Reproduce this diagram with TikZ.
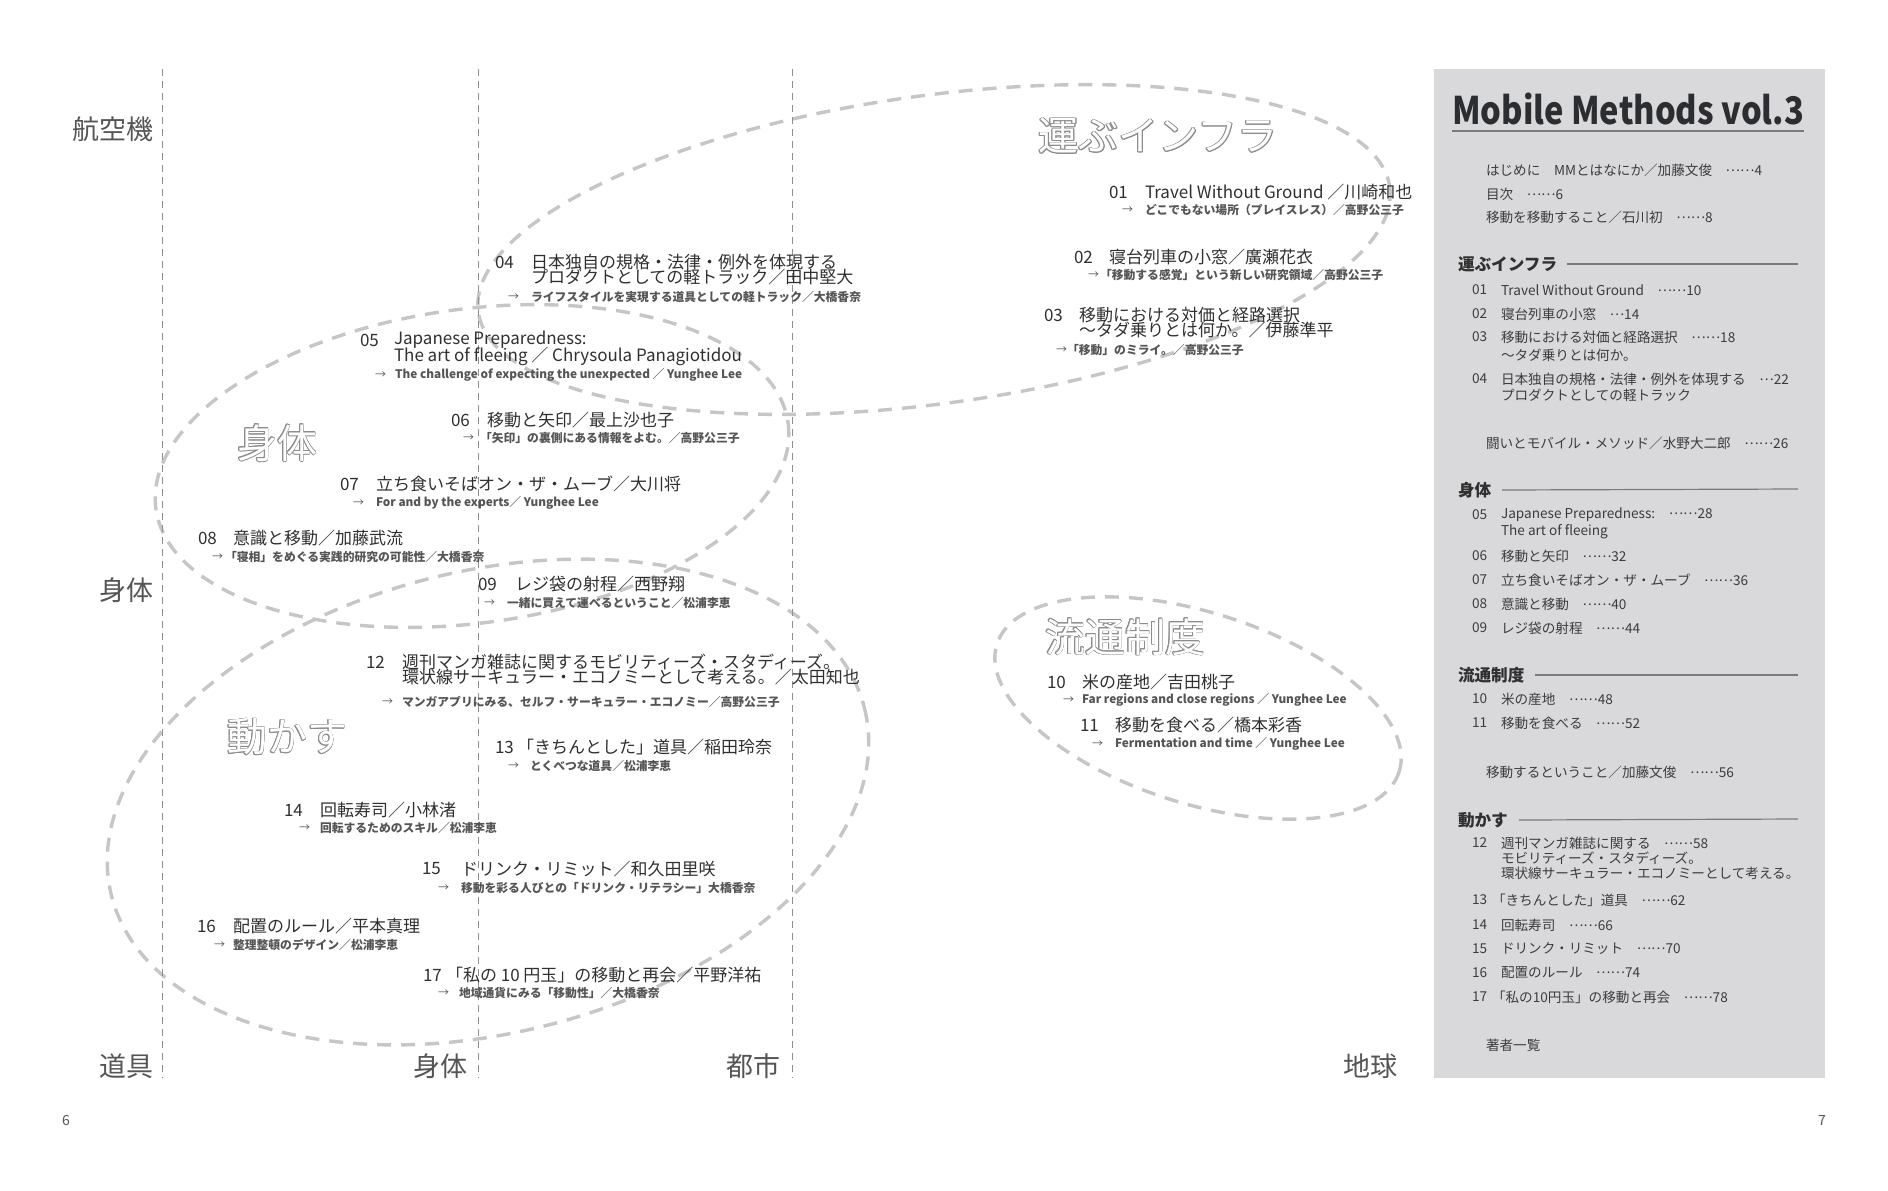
\documentclass[tikz,border=0pt]{standalone}
\usepackage{fontspec}
\setmainfont{Noto Sans CJK JP}
\usepackage{graphicx}
\definecolor{maintxt}{HTML}{303030}
\definecolor{subtxt}{HTML}{555555}
\definecolor{axistxt}{HTML}{555555}
\definecolor{ellc}{HTML}{C6C6C6}
\definecolor{vlinec}{HTML}{8E8E8E}
\definecolor{panelc}{HTML}{D9D9DC}
\definecolor{outc}{HTML}{8C8C8C}
\definecolor{toctxt}{HTML}{3C3C3C}
\definecolor{rulec}{HTML}{7A7A7A}
\definecolor{titlec}{HTML}{2B2D31}
\tikzset{
 every node/.style={inner sep=0pt,outer sep=0pt},
 mainl/.style={anchor=west,font=\fontsize{8.5}{10}\selectfont,text=maintxt},
 arrl/.style={anchor=west,font=\fontsize{5.5}{7}\selectfont,text=subtxt},
 subl/.style={anchor=west,font=\fontsize{5.9}{7}\selectfont\bfseries,text=subtxt},
 axl/.style={anchor=east,font=\fontsize{13.5}{15}\selectfont,text=axistxt},
 outlab/.style={font=\fontsize{20}{22}\selectfont,text=outc},
 ellstyle/.style={draw=ellc,line width=1.7pt,dash pattern=on 7pt off 5pt},
 vline/.style={draw=vlinec,line width=0.5pt,dash pattern=on 3.5pt off 2.5pt},
 tocl/.style={anchor=west,font=\fontsize{6.8}{8}\selectfont,text=toctxt},
 toch/.style={anchor=west,font=\fontsize{8.3}{9}\selectfont\bfseries,text=maintxt},
 tocrule/.style={draw=rulec,line width=0.6pt},
 pgnum/.style={font=\fontsize{7}{8}\selectfont,text=axistxt},
}
\newcommand\dts{\raisebox{.3em}{……}}
\newcommand\dt{\raisebox{.3em}{…}}
\newcommand\ent[6]{\node[mainl] (#1n) at (#2,#3) {#4};\node[mainl] (#1t) at (#5,#3) {#6};}
\newcommand\entc[4]{\node[mainl] (#1) at (#2,#3) {#4};}
\newcommand\subln[5]{\node[arrl] (#1a) at (#2,#4) {→};\node[subl] (#1s) at (#3,#4) {#5};}
\newcommand\outtext[4]{%
 \foreach \ang in {0,30,...,330}{\node[outlab,shift={(\ang:0.4pt)}] at (#2,#3) {#4};}
 \node[outlab,text=white] (#1) at (#2,#3) {#4};}
\newcommand\tocent[4]{\node[tocl] (#1n) at (1472,#2) {#3};\node[tocl] (#1t) at (1501,#2) {#4};}
\newcommand\toccont[3]{\node[tocl] (#1) at (1501,#2) {#3};}
\begin{document}
\begin{tikzpicture}[x=0.5pt,y=-0.5pt]
\fill[white] (0,0) rectangle (1888,1190);
\useasboundingbox (0,0) rectangle (1888,1190);
% panel
\fill[panelc] (1434,69) rectangle (1825,1078);
% ellipses
\draw[ellstyle, rotate around={7.8:(934,249.5)}] (934,249.5) ellipse [x radius=460, y radius=154];
\draw[ellstyle, rotate around={7.7:(472,466)}] (472,466) ellipse [x radius=319, y radius=157];
\draw[ellstyle, rotate around={13.9:(488,802)}] (488,802) ellipse [x radius=388, y radius=231];
\draw[ellstyle, rotate around={-17.6:(1198,708)}] (1198,708) ellipse [x radius=211, y radius=95.5];
% vertical lines
\coordinate (v1t) at (162,69); \coordinate (v1b) at (162,1078);
\coordinate (v2t) at (478,69); \coordinate (v2b) at (478,1078);
\coordinate (v3t) at (792,69); \coordinate (v3b) at (792,1078);
\draw[vline] (v1t) -- (v1b);
\draw[vline] (v2t) -- (v2b);
\draw[vline] (v3t) -- (v3b);
% outline labels
\outtext{lab1}{1158}{136}{運ぶインフラ}
\outtext{lab2}{277}{443}{身体}
\outtext{lab3}{287}{737}{動かす}
\outtext{lab4}{1125}{637}{流通制度}
% axis labels
\node[axl] (ax1) at (153,129) {航空機};
\node[axl] (ax2) at (153,590) {身体};
\node[axl] (ax3) at (153,1066) {道具};
\node[axl] (ax4) at (467,1066) {身体};
\node[axl] (ax5) at (780,1066) {都市};
\node[axl] (ax6) at (1397,1066) {地球};
\node[pgnum] (pg6) at (66,1120) {6};
\node[pgnum] (pg7) at (1822,1120) {7};
% entries
\ent{e01}{1109}{192}{01}{1145}{Travel Without Ground ／川崎和也}
\subln{e01}{1122}{1145}{210}{どこでもない場所（プレイスレス）／高野公三子}
\ent{e02}{1074}{257}{02}{1109}{寝台列車の小窓／廣瀬花衣}
\subln{e02}{1088}{1100}{275}{「移動する感覚」という新しい研究領域／高野公三子}
\ent{e03}{1044}{315}{03}{1079}{移動における対価と経路選択}
\entc{e03c}{1079}{330}{～タダ乗りとは何か。／伊藤準平}
\subln{e03}{1056}{1067}{350}{「移動」のミライ。／高野公三子}
\ent{e04}{495}{262}{04}{531}{日本独自の規格・法律・例外を体現する}
\entc{e04c}{531}{277}{プロダクトとしての軽トラック／田中堅大}
\subln{e04}{508}{531}{297}{ライフスタイルを実現する道具としての軽トラック／大橋香奈}
\ent{e05}{360}{340}{05}{394}{Japanese Preparedness:}
\entc{e05c}{394}{356}{The art of fleeing ／ Chrysoula Panagiotidou}
\subln{e05}{375}{395}{375}{The challenge of expecting the unexpected ／ Yunghee Lee}
\ent{e06}{451}{420}{06}{487}{移動と矢印／最上沙也子}
\subln{e06}{463}{480}{438}{「矢印」の裏側にある情報をよむ。／高野公三子}
\ent{e07}{340}{484}{07}{376}{立ち食いそばオン・ザ・ムーブ／大川将}
\subln{e07}{353}{376}{503}{For and by the experts／ Yunghee Lee}
\ent{e08}{198}{538}{08}{233}{意識と移動／加藤武流}
\subln{e08}{212}{225}{557}{「寝相」をめぐる実践的研究の可能性／大橋香奈}
\ent{e09}{478}{584}{09}{515}{レジ袋の射程／西野翔}
\subln{e09}{484}{507}{603}{一緒に買えて運べるということ／松浦李恵}
\ent{e12}{366}{662}{12}{402}{週刊マンガ雑誌に関するモビリティーズ・スタディーズ。}
\entc{e12c}{402}{677}{環状線サーキュラー・エコノミーとして考える。／太田知也}
\subln{e12}{382}{402}{702}{マンガアプリにみる、セルフ・サーキュラー・エコノミー／高野公三子}
\ent{e13}{495}{747}{13}{517}{「きちんとした」道具／稲田玲奈}
\subln{e13}{508}{530}{766}{とくべつな道具／松浦李恵}
\ent{e14}{284}{810}{14}{320}{回転寿司／小林渚}
\subln{e14}{299}{320}{828}{回転するためのスキル／松浦李恵}
\ent{e15}{422}{869}{15}{461}{ドリンク・リミット／和久田里咲}
\subln{e15}{438}{461}{888}{移動を彩る人びとの「ドリンク・リテラシー」大橋香奈}
\ent{e16}{197}{926}{16}{233}{配置のルール／平本真理}
\subln{e16}{214}{233}{945}{整理整頓のデザイン／松浦李恵}
\ent{e17}{423}{975}{17}{446}{「私の 10 円玉」の移動と再会／平野洋祐}
\subln{e17}{438}{459}{993}{地域通貨にみる「移動性」／大橋香奈}
\ent{e10}{1047}{682}{10}{1082}{米の産地／吉田桃子}
\subln{e10}{1063}{1082}{700}{Far regions and close regions ／ Yunghee Lee}
\ent{e11}{1080}{725}{11}{1115}{移動を食べる／橋本彩香}
\subln{e11}{1092}{1115}{744}{Fermentation and time ／ Yunghee Lee}
% TOC
\node[anchor=base west,font=\fontsize{19}{21}\selectfont\bfseries,text=titlec] (title) at (1452,124) {\scalebox{0.86}[1]{Mobile Methods vol.3}};
\draw[draw=rulec,line width=0.8pt] ([yshift=-3.5pt]title.base west) -- ([yshift=-3.5pt]title.base east);
\node[tocl] (c00) at (1486,170) {はじめに　MMとはなにか／加藤文俊　\dts 4};
\node[tocl] (c01) at (1486,194) {目次　\dts 6};
\node[tocl] (c02) at (1486,217) {移動を移動すること／石川初　\dts 8};
\node[toch] (h1) at (1458,264) {運ぶインフラ};
\coordinate (h1e) at (1798,264);
\draw[tocrule] ([xshift=5pt]h1.east) -- (h1e);
\tocent{c1}{290}{01}{Travel Without Ground　\dts 10}
\tocent{c2}{314}{02}{寝台列車の小窓　\dt 14}
\tocent{c3}{337}{03}{移動における対価と経路選択　\dts 18}
\toccont{c3c}{355}{～タダ乗りとは何か。}
\tocent{c4}{379}{04}{日本独自の規格・法律・例外を体現する　\dt 22}
\toccont{c4c}{395}{プロダクトとしての軽トラック}
\node[tocl] (c05) at (1486,443) {闘いとモバイル・メソッド／水野大二郎　\dts 26};
\node[toch] (h2) at (1458,490) {身体};
\coordinate (h2e) at (1798,489);
\draw[tocrule] ([xshift=5.5pt]h2.east) -- (h2e);
\tocent{c5}{515}{05}{Japanese Preparedness:　\dts 28}
\toccont{c5c}{532}{The art of fleeing}
\tocent{c6}{556}{06}{移動と矢印　\dts 32}
\tocent{c7}{580}{07}{立ち食いそばオン・ザ・ムーブ　\dts 36}
\tocent{c8}{604}{08}{意識と移動　\dts 40}
\tocent{c9}{628}{09}{レジ袋の射程　\dts 44}
\node[toch] (h3) at (1458,675) {流通制度};
\coordinate (h3e) at (1798,675);
\draw[tocrule] ([xshift=5.5pt]h3.east) -- (h3e);
\tocent{c10}{699}{10}{米の産地　\dts 48}
\tocent{c11}{723}{11}{移動を食べる　\dts 52}
\node[tocl] (c06) at (1486,772) {移動するということ／加藤文俊　\dts 56};
\node[toch] (h4) at (1458,820) {動かす};
\coordinate (h4e) at (1798,819);
\draw[tocrule] ([xshift=5.5pt]h4.east) -- (h4e);
\tocent{c12}{843}{12}{週刊マンガ雑誌に関する　\dts 58}
\toccont{c12c}{858}{モビリティーズ・スタディーズ。}
\toccont{c12d}{873}{環状線サーキュラー・エコノミーとして考える。}
\node[tocl] (c13n) at (1472,900) {13};
\node[tocl] (c13t) at (1492,900) {「きちんとした」道具　\dts 62};
\tocent{c14}{925}{14}{回転寿司　\dts 66}
\tocent{c15}{949}{15}{ドリンク・リミット　\dts 70}
\tocent{c16}{973}{16}{配置のルール　\dts 74}
\node[tocl] (c17n) at (1472,997) {17};
\node[tocl] (c17t) at (1492,997) {「私の10円玉」の移動と再会　\dts 78};
\node[tocl] (c07) at (1486,1045) {著者一覧};
\end{tikzpicture}
\end{document}
